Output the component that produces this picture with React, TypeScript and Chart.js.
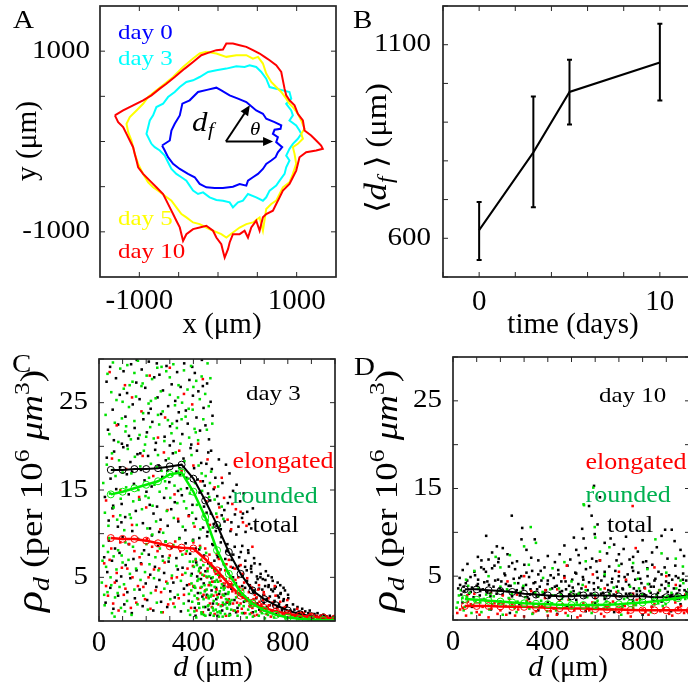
import React, { useEffect, useRef } from "react";
import { Chart, registerables } from "chart.js";

Chart.register(...registerables);

const SERIF = '"Liberation Serif", "Times New Roman", Times, serif';
const AXIS = "#262626";

// ---------------- Panel A : invasion fronts (x, y in µm) ----------------
const contourDay0: [number, number][] = [
  [-711, -44], [-613, 11], [-592, 122], [-550, 196], [-486, 289], [-453, 419], [-360, 456], [-254, 548],
  [-127, 574], [-21, 596], [42, 567], [148, 511], [254, 474], [360, 437], [423, 389], [486, 344],
  [571, 307], [613, 252], [719, 215], [804, 178], [795, 141], [719, 130], [698, 85], [761, 48],
  [740, -7], [816, -63], [761, -119], [732, -174], [677, -211], [613, -248], [571, -304], [508, -359],
  [444, -396], [381, -433], [360, -489], [275, -470], [190, -500], [63, -515], [-42, -515], [-148, -507],
  [-233, -470], [-296, -396], [-381, -359], [-486, -304], [-571, -248], [-635, -174], [-677, -100],
];
const contourDay3: [number, number][] = [
  [-846, -26], [-909, 85], [-888, 159], [-867, 233], [-825, 289], [-783, 381], [-698, 418], [-635, 492],
  [-550, 548], [-486, 603], [-402, 659], [-317, 677], [-233, 714], [-127, 770], [-21, 788], [106, 807],
  [233, 833], [338, 825], [402, 844], [486, 825], [550, 770], [613, 696], [656, 603], [740, 585],
  [825, 566], [909, 548], [931, 474], [867, 418], [931, 344], [952, 289], [909, 233], [994, 178],
  [1036, 122], [1058, 85], [1015, 30], [952, -26], [909, -81], [867, -156], [909, -211], [867, -285],
  [846, -359], [783, -433], [740, -489], [656, -544], [613, -618], [571, -655], [486, -618], [381, -581],
  [317, -655], [254, -674], [190, -729], [148, -674], [63, -655], [-21, -648], [-106, -618], [-190, -563],
  [-254, -581], [-317, -544], [-360, -489], [-402, -433], [-465, -396], [-529, -359], [-592, -304],
  [-635, -229], [-677, -156], [-740, -100], [-804, -63],
];
const contourDay5: [number, number][] = [
  [-148, 993], [-21, 974], [106, 937], [233, 956], [360, 956], [444, 918], [508, 937], [571, 863],
  [613, 752], [677, 659], [740, 603], [804, 548], [867, 474], [909, 418], [952, 381], [1015, 307],
  [1058, 233], [1100, 141], [1058, 85], [1079, 30], [1015, -26], [952, -63], [973, -137], [994, -248],
  [952, -359], [909, -452], [825, -507], [783, -581], [740, -655], [677, -692], [613, -748], [571, -988],
  [529, -840], [444, -896], [360, -915], [275, -952], [190, -1007], [106, -1063], [42, -1026], [-63, -988],
  [-148, -952], [-233, -915], [-317, -896], [-402, -840], [-465, -804], [-529, -729], [-592, -655],
  [-677, -600], [-761, -544], [-825, -507], [-888, -452], [-952, -359], [-1015, -248], [-1058, -137],
  [-1079, -63], [-1100, 11], [-1142, 104], [-1163, 196], [-1121, 270], [-1036, 344], [-952, 418],
  [-888, 492], [-783, 566], [-677, 640], [-571, 714], [-444, 825], [-317, 918], [-233, 974],
];
const contourDay10: [number, number][] = [
  [-1311, 289], [-1206, 344], [-1079, 400], [-952, 456], [-846, 511], [-740, 585], [-656, 640], [-550, 714],
  [-423, 807], [-317, 881], [-212, 955], [-127, 981], [-21, 1011], [63, 1018], [106, 1085], [190, 1085],
  [275, 1066], [360, 1048], [444, 1011], [529, 974], [592, 937], [656, 900], [740, 844], [804, 770],
  [825, 677], [846, 585], [867, 511], [909, 456], [973, 400], [1015, 307], [1079, 233], [1100, 122],
  [1184, 67], [1248, 11], [1311, -44], [1332, -81], [1248, -100], [1121, -118], [1036, -174], [1015, -248],
  [994, -322], [952, -396], [909, -470], [825, -544], [783, -618], [740, -692], [698, -766], [613, -803],
  [571, -840], [529, -988], [486, -877], [423, -951], [381, -1063], [338, -988], [275, -1026], [190, -1026],
  [148, -1118], [127, -1192], [85, -1285], [63, -1211], [42, -1137], [-21, -1063], [-63, -988], [-148, -933],
  [-233, -951], [-317, -970], [-402, -1026], [-444, -1100], [-486, -951], [-529, -877], [-571, -803],
  [-613, -729], [-656, -655], [-698, -581], [-783, -507], [-867, -433], [-952, -359], [-1015, -285],
  [-1036, -211], [-1058, -137], [-1079, -63], [-1121, 11], [-1163, 85], [-1206, 159], [-1269, 215],
];
const aTicks = [-1000, -500, 0, 500, 1000];
const aTickLabels = [-1000, 1000];
const arrowTail = [100, 0];
const arrowHeadRadial = [405, 400];
const arrowHeadAxis = [700, 0];

// ---------------- Panel B : mean front distance ----------------
const days = [0, 3, 5, 10];
const meanDf = [621, 822, 978, 1054];
const dfLow = [544, 680, 894, 956];
const dfHigh = [694, 966, 1061, 1154];
const bXTicks = [-2, 0, 2, 4, 6, 8, 10, 12];
const bYTicks = [500, 600, 700, 800, 900, 1000, 1100, 1200];
const bXLabels = [0, 10];
const bYLabels = [600, 1100];

// ---------------- Panels C & D : density profiles ----------------
const dGrid = [50, 100, 150, 200, 250, 300, 350, 400, 450, 500, 550, 600, 650, 700, 750, 800, 850, 900, 950, 1000];
const day3Total = [17.3, 17.3, 17.4, 17.4, 17.5, 17.7, 17.9, 16.3, 13.8, 11.0, 7.9, 5.4, 3.5, 2.5, 1.8, 1.2, 0.8, 0.55, 0.4, 0.25];
const day3Rounded = [14.5, 14.8, 15.2, 15.6, 16.0, 16.8, 17.0, 14.8, 11.9, 8.1, 5.4, 3.3, 2.0, 1.2, 0.7, 0.4, 0.25, 0.15, 0.1, 0.1];
const day3Elongated = [9.5, 9.4, 9.4, 9.2, 8.9, 8.55, 8.4, 8.3, 7.1, 5.8, 4.2, 2.9, 2.1, 1.5, 1.1, 0.8, 0.6, 0.5, 0.4, 0.3];
const day10Total = [3.5, 3.5, 3.4, 3.3, 3.2, 3.0, 2.9, 2.8, 2.7, 2.7, 2.8, 2.8, 2.8, 2.7, 2.7, 2.7, 2.6, 2.6, 2.7, 2.8];
const day10Rounded = [2.4, 2.3, 2.2, 2.1, 2.0, 1.9, 1.85, 1.8, 1.75, 1.7, 1.7, 1.7, 1.75, 1.8, 1.9, 2.0, 2.1, 2.3, 2.5, 2.7];
const day10Elongated = [1.6, 1.6, 1.6, 1.55, 1.5, 1.5, 1.45, 1.4, 1.35, 1.3, 1.3, 1.25, 1.2, 1.2, 1.15, 1.1, 1.1, 1.1, 1.1, 1.1];

// day 3 scattered cell densities: [d, rho]
const day3TotalHigh: [number, number][] = [
  [32, 27.4], [38, 21.9], [47, 29.1], [58, 24.2], [63, 20.7], [72, 27.8], [81, 22.5], [88, 25.9], [97, 20.3], [104, 28.6],
  [112, 23.4], [119, 26.1], [127, 21.2], [136, 29.4], [143, 24.8], [151, 22.1], [158, 27.3], [166, 20.9], [172, 25.4], [181, 28.8],
  [188, 23.1], [196, 26.7], [203, 21.6], [211, 29.7], [219, 24.3], [226, 22.8], [234, 27.9], [241, 20.4], [248, 25.6], [256, 28.2],
  [263, 23.7], [271, 26.4], [278, 21.1], [286, 29.2], [293, 24.6], [301, 22.3], [308, 27.1], [316, 20.6], [323, 25.2], [331, 28.5],
  [338, 23.9], [346, 26.8], [353, 21.4], [361, 29.5], [368, 24.1], [376, 22.6], [383, 27.6], [391, 20.2], [398, 25.8], [406, 28.4],
  [413, 23.3], [421, 26.3], [428, 21.8], [436, 29.9], [443, 24.4], [451, 22.4], [458, 27.2], [466, 20.8], [473, 25.1], [481, 23.5],
  [160, 29.9], [245, 29.5], [330, 22.9], [395, 29.1], [120, 20.1], [210, 23.8], [300, 20.1], [440, 26.9],
];
const day3TotalMid: [number, number][] = [
  [25, 14.2], [33, 18.7], [41, 11.5], [49, 16.3], [57, 12.9], [64, 19.4], [73, 15.1], [80, 10.8], [89, 17.6], [96, 13.4],
  [103, 19.9], [111, 11.9], [118, 16.8], [126, 14.5], [133, 18.2], [141, 10.3], [148, 15.7], [156, 12.6], [163, 19.1], [171, 13.9],
  [178, 17.3], [186, 11.2], [193, 16.1], [201, 14.8], [208, 18.9], [216, 10.6], [223, 15.4], [231, 12.3], [238, 19.6], [246, 13.1],
  [253, 17.8], [261, 11.6], [268, 16.5], [276, 14.1], [283, 18.4], [291, 10.9], [298, 15.9], [306, 12.8], [313, 19.2], [321, 13.6],
  [328, 17.1], [336, 11.4], [343, 16.7], [351, 14.4], [358, 18.6], [366, 10.4], [373, 15.2], [381, 12.1], [388, 19.8], [396, 13.3],
  [403, 17.5], [411, 11.7], [418, 16.2], [426, 14.7], [433, 18.1], [441, 10.7], [448, 15.5], [456, 12.4], [463, 19.3], [471, 13.8],
  [478, 17.4], [486, 11.1], [493, 16.4], [501, 14.3], [508, 18.5], [516, 10.5], [523, 15.8], [531, 12.7], [538, 17.9], [546, 13.5],
  [553, 16.9], [561, 11.3], [568, 14.9], [576, 12.2], [583, 15.6], [591, 10.8], [598, 13.7], [606, 11.8], [613, 14.6], [621, 10.2],
  [628, 12.5], [636, 11.1], [645, 10.6], [652, 12.9], [60, 13.2], [140, 17.1], [215, 13.3], [290, 17.2], [370, 16.4], [445, 13.1],
  [520, 12.1], [95, 11.3], [175, 19.2], [255, 10.2], [335, 14.9], [415, 19.5], [495, 10.3], [555, 14.2], [610, 12.3],
  [462, 14.6], [474, 12.3], [486, 15.1], [498, 10.9], [507, 13.4], [532, 11.4], [557, 10.3], [440, 16], [455, 18], [475, 19.5],
];
const day3TotalLow: [number, number][] = [
  [22, 7.3], [28, 2.1], [35, 5.6], [42, 9.2], [48, 3.8], [55, 6.9], [61, 1.4], [68, 8.3], [74, 4.6], [81, 2.9],
  [87, 7.8], [94, 5.1], [100, 9.6], [107, 1.9], [113, 6.4], [120, 3.3], [126, 8.8], [133, 4.9], [139, 0.9], [146, 7.1],
  [152, 2.6], [159, 5.8], [165, 9.4], [172, 3.6], [178, 6.6], [185, 1.7], [191, 8.1], [198, 4.3], [204, 2.4], [211, 7.6],
  [217, 5.3], [224, 9.8], [230, 1.2], [237, 6.2], [243, 3.9], [250, 8.6], [256, 4.7], [263, 2.2], [269, 7.4], [276, 5.5],
  [282, 9.1], [289, 1.6], [295, 6.8], [302, 3.4], [308, 8.4], [315, 4.4], [321, 2.7], [328, 7.2], [334, 5.9], [341, 9.5],
  [347, 1.1], [354, 6.1], [360, 3.7], [367, 8.9], [373, 4.1], [380, 2.3], [386, 7.7], [393, 5.4], [399, 9.3], [406, 1.5],
  [412, 6.7], [419, 3.2], [425, 8.2], [432, 4.8], [438, 2.8], [445, 7.5], [451, 5.7], [458, 9.7], [464, 1.3], [471, 6.3],
  [477, 3.5], [484, 8.7], [490, 4.5], [497, 2.5], [503, 7.3], [510, 5.2], [516, 9.0], [523, 1.8], [529, 6.5], [536, 3.1],
  [542, 8.0], [549, 4.2], [555, 2.0], [562, 7.0], [568, 5.0], [575, 8.5], [581, 1.0], [588, 6.0], [594, 3.0], [601, 7.9],
  [607, 4.0], [614, 2.2], [620, 6.9], [627, 4.6], [633, 7.8], [640, 1.7], [646, 5.6], [653, 3.3], [659, 6.6], [666, 2.6],
  [672, 4.8], [679, 1.3], [685, 5.4], [692, 3.6], [698, 2.1], [705, 4.7], [711, 1.6], [718, 3.9], [724, 2.8], [731, 1.1],
  [737, 3.4], [744, 2.3], [750, 0.8], [757, 2.9], [763, 1.9], [770, 3.2], [776, 1.4], [783, 2.5], [789, 0.9], [796, 1.8],
  [802, 2.6], [809, 1.2], [815, 0.7], [822, 1.9], [828, 1.3], [835, 0.6], [841, 1.6], [848, 1.0], [854, 0.5], [861, 1.4],
  [867, 0.8], [874, 1.1], [880, 0.4], [887, 0.9], [893, 1.2], [900, 0.6], [906, 0.3], [913, 0.8], [919, 0.5], [926, 0.9],
  [932, 0.4], [939, 0.6], [945, 0.3], [952, 0.7], [958, 0.4], [965, 0.5], [971, 0.3], [978, 0.6], [984, 0.2], [991, 0.4],
  [402, 3.9], [409, 0.6], [416, 5.1], [423, 2.0], [430, 6.1], [437, 0.9], [444, 4.3], [450, 1.6], [457, 3.0], [463, 6.6],
  [470, 0.7], [476, 4.9], [483, 2.0], [489, 6.9], [496, 3.8], [502, 0.6], [509, 3.1], [515, 5.9], [522, 1.2], [528, 4.0],
  [535, 7.1], [541, 2.1], [548, 5.5], [554, 0.8], [561, 3.7], [567, 6.1], [574, 2.4], [580, 4.3], [587, 1.5], [593, 6.3],
  [600, 3.2], [606, 5.1], [613, 0.9], [619, 3.8], [626, 5.8], [632, 2.4], [639, 4.1], [645, 6.3], [652, 1.0], [658, 3.5],
  [665, 4.4], [671, 2.0], [678, 3.7], [684, 5.0], [691, 1.5], [697, 3.0], [704, 4.0], [710, 2.5], [717, 5.2], [723, 1.8],
  [730, 3.6], [736, 4.6], [742, 2.2], [749, 3.9], [755, 1.6], [762, 2.7], [768, 4.1], [775, 1.2], [781, 2.3], [788, 3.5],
  [794, 1.7], [801, 3.0], [519, 9.6], [544, 8.8], [569, 7.6], [582, 9.9], [594, 7.3], [607, 8.6], [619, 6.2], [632, 8.1],
  [644, 6.0], [657, 7.2], [669, 5.1], [682, 6.5], [694, 4.8], [707, 5.7], [719, 4.1], [732, 5.0], [744, 3.7], [757, 4.4],
  [769, 3.1], [782, 3.8], [460, 10.2], [480, 8.8], [500, 7.6], [425, 9.5], [410, 8.3],
];
const day3RoundedHigh: [number, number][] = [
  [28, 23.6], [36, 28.3], [44, 21.4], [52, 26.2], [59, 29.6], [67, 22.7], [74, 25.3], [82, 20.5], [90, 28.9], [97, 23.2],
  [105, 26.6], [112, 21.7], [120, 29.3], [127, 24.5], [135, 20.8], [142, 27.4], [150, 22.9], [157, 25.7], [165, 29.8], [172, 21.3],
  [180, 26.9], [187, 23.8], [195, 20.2], [202, 28.1], [210, 24.9], [217, 22.2], [225, 27.7], [232, 20.9], [240, 25.5], [247, 29.0],
  [255, 22.5], [262, 26.3], [270, 24.0], [277, 20.6], [285, 28.6], [292, 23.0], [300, 25.9], [307, 21.5], [315, 29.4], [322, 24.7],
  [330, 22.1], [337, 27.0], [345, 20.3], [352, 25.0], [360, 28.7], [367, 23.4], [375, 26.5], [382, 21.0], [390, 29.2], [397, 24.2],
  [405, 22.0], [412, 27.5], [420, 20.7], [427, 25.4], [435, 28.0], [442, 23.1], [450, 26.0], [457, 21.9], [465, 24.6], [472, 27.8],
  [480, 22.6], [100, 25.1], [150, 28.4], [200, 21.1], [250, 23.6], [300, 27.9], [350, 23.1], [400, 26.8], [115, 22.3], [185, 27.2],
  [265, 29.1], [335, 25.6], [410, 21.6], [460, 29.5], [130, 27.0], [220, 25.2], [310, 22.6], [380, 24.3],
];
const day3RoundedMid: [number, number][] = [
  [18, 15.8], [25, 12.4], [33, 17.9], [40, 10.9], [47, 14.6], [55, 19.2], [62, 13.0], [70, 16.6], [77, 11.6], [85, 18.4],
  [92, 14.0], [100, 17.0], [107, 10.4], [115, 15.3], [122, 19.7], [130, 12.2], [137, 16.9], [145, 13.7], [152, 18.8], [160, 11.0],
  [167, 15.0], [175, 17.7], [182, 12.8], [190, 19.5], [197, 14.3], [205, 10.6], [212, 16.4], [220, 18.0], [227, 13.2], [235, 15.6],
  [242, 11.4], [250, 19.0], [257, 14.8], [265, 17.2], [272, 10.1], [280, 16.0], [287, 12.6], [295, 18.6], [302, 14.1], [310, 16.7],
  [317, 11.8], [325, 19.3], [332, 13.5], [340, 17.5], [347, 15.1], [355, 10.8], [362, 18.3], [370, 12.9], [377, 16.3], [385, 14.6],
  [392, 19.0], [400, 11.2], [407, 15.8], [415, 13.3], [422, 17.8], [430, 10.5], [437, 14.9], [445, 12.0], [452, 16.6], [460, 11.5],
  [467, 14.2], [475, 17.1], [482, 10.7], [490, 13.9], [497, 12.3], [505, 15.4], [512, 10.9], [520, 13.1], [527, 11.7],
  [60, 17.3], [135, 11.8], [210, 14.1], [285, 15.2], [360, 13.7], [435, 16.9], [90, 12.1], [170, 13.9], [245, 17.6], [320, 15.5],
  [395, 12.4], [470, 15.8],
];
const day3RoundedLow: [number, number][] = [
  [12, 4.4], [18, 8.6], [24, 1.8], [30, 6.2], [36, 3.3], [43, 9.5], [49, 5.0], [55, 0.9], [62, 7.4], [68, 2.7],
  [74, 5.9], [81, 8.1], [87, 3.9], [93, 1.5], [100, 6.7], [106, 4.2], [112, 9.0], [119, 2.3], [125, 7.0], [131, 5.4],
  [138, 0.7], [144, 8.5], [150, 3.6], [157, 6.0], [163, 1.9], [169, 9.3], [176, 4.7], [182, 7.7], [188, 2.9], [195, 5.6],
  [201, 8.8], [207, 1.3], [214, 6.5], [220, 3.2], [226, 9.9], [233, 4.9], [239, 7.3], [245, 2.1], [252, 5.8], [258, 8.3],
  [264, 1.0], [271, 6.9], [277, 3.7], [283, 9.1], [290, 4.3], [296, 7.2], [302, 2.5], [309, 5.2], [315, 8.7], [321, 1.6],
  [328, 6.3], [334, 3.0], [340, 9.4], [347, 4.6], [353, 7.6], [359, 2.0], [366, 5.5], [372, 8.0], [378, 1.2], [385, 6.8],
  [391, 3.5], [397, 9.2], [404, 4.0], [410, 7.1], [416, 2.6], [423, 5.7], [429, 8.4], [435, 0.8], [442, 6.4], [448, 3.4],
  [454, 7.8], [461, 1.7], [467, 5.1], [473, 2.8], [480, 6.1], [486, 0.6], [492, 4.5], [499, 2.0], [505, 5.3], [511, 1.1],
  [518, 3.8], [524, 0.5], [530, 2.9], [537, 4.8], [543, 1.4], [549, 3.3], [556, 0.7], [562, 2.4], [568, 4.1], [575, 1.2],
  [581, 2.7], [587, 0.6], [594, 1.8], [600, 3.0], [606, 0.9], [613, 1.7], [619, 2.3], [626, 0.4], [632, 1.3], [639, 0.8],
  [645, 1.9], [652, 0.5], [664, 1.1], [677, 0.6], [690, 0.9], [703, 0.3], [716, 0.7], [742, 0.4], [768, 0.6], [794, 0.3],
  [820, 0.4], [846, 0.2], [872, 0.3], [898, 0.15], [924, 0.25], [950, 0.1], [976, 0.2],
  [381, 3.1], [386, 0.7], [390, 5.2], [395, 2.2], [399, 6.8], [404, 1.1], [408, 3.8], [412, 0.4], [417, 4.6], [421, 2.0],
  [425, 6.0], [430, 3.2], [434, 1.0], [438, 5.3], [443, 2.5], [447, 4.1], [451, 0.6], [456, 3.6], [460, 5.7], [464, 1.8],
  [469, 4.4], [473, 0.9], [477, 3.0], [482, 5.0], [486, 2.3], [490, 3.9], [495, 1.3], [499, 4.7], [503, 2.7], [508, 0.5],
  [512, 3.4], [516, 1.7], [521, 4.2], [525, 2.1], [529, 3.6], [534, 0.8], [538, 2.5], [542, 1.5], [547, 3.1], [551, 0.6],
  [555, 2.2], [560, 1.3], [405, 2.9], [415, 6.4], [425, 1.5], [435, 3.9], [445, 0.7], [455, 5.1], [465, 2.6], [475, 4.1],
  [485, 1.2], [495, 3.3], [505, 4.5], [515, 0.9], [525, 3.0], [535, 1.9], [545, 2.4], [392, 4.3], [402, 6.2], [422, 4.8],
  [432, 7.0], [442, 1.6], [462, 2.9], [472, 6.3], [482, 1.5], [492, 5.7], [502, 1.0], [522, 5.1], [532, 3.8], [552, 1.9],
  [15, 6.9], [22, 3.0], [38, 7.9], [52, 4.1], [66, 0.5], [79, 3.2], [96, 7.5], [110, 1.1],
];
const day3ElongatedHigh: [number, number][] = [
  [45, 28.5], [110, 27], [180, 24], [250, 21], [300, 29], [340, 19.5], [360, 26], [420, 20.3], [460, 18.5], [75, 22.4],
  [140, 25.6], [215, 28.1], [280, 23.3], [395, 24.8], [440, 27.7],
  [30, 13.8], [60, 12], [90, 15], [115, 17.4], [140, 11], [170, 14.2], [200, 13], [230, 16.6], [260, 10.5], [290, 12.7],
  [320, 14.5], [350, 17.2], [380, 12], [405, 10.8], [430, 16], [455, 13.7], [470, 11], [490, 15.3], [510, 13], [530, 14.1],
  [545, 11.6], [560, 10.5], [580, 12.8], [600, 12.5], [625, 10.9], [650, 8.5], [55, 18.6], [185, 18.9], [275, 19.3], [335, 11.7],
  [400, 17.8], [500, 11.9], [520, 16.4], [565, 13.4], [610, 11.3],
];
const day3ElongatedLow: [number, number][] = [
  [30, 4], [45, 7], [60, 2], [75, 5.5], [90, 9], [105, 3], [120, 6], [135, 1.5], [150, 8], [165, 4],
  [180, 6.5], [195, 2.5], [210, 5], [225, 8.5], [240, 3.5], [255, 6], [270, 1], [285, 4.5], [300, 7.5], [315, 2],
  [330, 5], [345, 8], [360, 3], [375, 6], [390, 1.5], [400, 4], [410, 7], [420, 2.5], [430, 5.5], [440, 1],
  [450, 3.5], [460, 6], [470, 2], [480, 4.5], [490, 0.8], [500, 3], [510, 5], [520, 1.8], [530, 3.8], [540, 6.5],
  [550, 2.5], [560, 4.2], [570, 1.2], [580, 3.2], [590, 5], [600, 2], [610, 3.6], [620, 0.9], [630, 2.6], [640, 4],
  [650, 1.5], [660, 3], [670, 0.7], [680, 2.2], [690, 1.4], [700, 3], [710, 0.8], [720, 1.8], [730, 1.1], [745, 4],
  [760, 0.6], [780, 1.5], [800, 0.9], [830, 0.5], [860, 1], [900, 0.6], [940, 0.4], [980, 0.3],
  [430, 3.8], [445, 5.2], [455, 2.7], [465, 4.1], [475, 6.6], [485, 2.9], [495, 5.4], [505, 1.9], [515, 4.6],
  [525, 3], [535, 5.8], [545, 2.2], [555, 4.9], [565, 3.4], [575, 6], [585, 2.1], [595, 3.9], [605, 1.4],
  [615, 4.4], [625, 2.3], [635, 3.3], [645, 0.9], [655, 2.5], [665, 1.8], [675, 3.6], [685, 1.1], [695, 2.4],
  [715, 1.5], [735, 2.1], [755, 1.2], [400, 9], [450, 8.3], [500, 7.7], [550, 7], [600, 6.4],
  [22, 6.6], [38, 2.9], [52, 8.3], [67, 4.4], [83, 1.2], [97, 6.1], [112, 3.7], [128, 8.8], [142, 5.0], [158, 2.1],
  [172, 7.3], [188, 3.9], [203, 9.4], [218, 1.4], [233, 5.9], [248, 8.0], [263, 3.3], [278, 6.7], [293, 1.9], [308, 4.9],
  [323, 9.1], [338, 2.6], [353, 5.3], [368, 7.7], [383, 4.2], [398, 6.3], [413, 1.2], [428, 8.6], [443, 3.0], [458, 5.0],
  [468, 7.6], [478, 1.6], [488, 5.9], [498, 3.6], [508, 7.1], [518, 2.7], [528, 4.3], [538, 0.6], [548, 3.9], [558, 6.2],
  [568, 2.0], [578, 4.7], [588, 1.1], [598, 3.4], [608, 5.4], [618, 2.8], [628, 4.9], [638, 1.7], [648, 3.8], [658, 0.6],
  [668, 2.7], [678, 4.1], [688, 1.9], [698, 3.3], [708, 1.3], [718, 2.6], [728, 0.5], [738, 1.8], [748, 2.9], [758, 1.0],
  [768, 2.2], [778, 0.7], [788, 1.6], [798, 2.4], [812, 1.1], [826, 0.7], [840, 1.4], [854, 0.5], [868, 0.9], [882, 0.4],
  [896, 0.8], [910, 0.3], [924, 0.6], [938, 0.5], [952, 0.3], [966, 0.5], [980, 0.2], [994, 0.4],
];

// day 10 scattered cell densities: [d, rho]
const day10TotalHigh: [number, number][] = [
  [248, 11.9], [292, 10.5], [289, 9.2], [345, 9.2], [585, 11.9], [620, 14], [595, 15.3], [574, 13], [551, 9.3],
  [510, 9.4], [598, 9.8], [895, 10.3], [923, 10.3], [730, 9.5], [840, 7.7], [165, 7.7], [193, 7], [120, 6.8],
  [210, 8.2], [680, 8.6], [760, 7.2], [800, 9.1], [960, 8], [450, 7.5], [520, 8], [640, 8.8], [700, 7.5],
  [105, 7.2], [150, 6.9], [185, 8.4], [230, 7.5], [270, 6.7], [310, 8.0], [360, 6.8], [400, 7.3], [430, 6.6],
  [470, 8.5], [495, 6.9], [530, 7.4], [560, 8.2], [605, 6.7], [650, 7.6], [665, 9.3], [690, 6.8], [720, 8.1],
  [745, 6.9], [780, 7.8], [815, 6.7], [860, 8.3], [905, 7.0], [935, 9.0], [975, 7.3], [140, 9.6], [330, 7.1],
  [545, 10.4], [610, 10.9], [880, 9.6],
];
const day10TotalBand: [number, number][] = [
  [22, 3.6], [28, 4.8], [35, 2.9], [41, 5.7], [48, 3.3], [54, 4.2], [61, 6.4], [67, 3.0], [74, 4.9], [80, 3.7],
  [87, 2.6], [93, 5.1], [100, 3.9], [106, 4.6], [113, 2.8], [119, 6.0], [126, 3.5], [132, 4.3], [139, 5.5], [145, 3.2],
  [152, 4.0], [158, 2.7], [165, 5.9], [171, 3.8], [178, 4.5], [184, 3.0], [191, 6.6], [197, 3.6], [204, 4.4], [210, 2.9],
  [217, 5.3], [223, 4.1], [230, 3.3], [236, 6.1], [243, 3.9], [249, 2.7], [256, 4.7], [262, 5.8], [269, 3.4], [275, 4.2],
  [282, 2.8], [288, 5.0], [295, 3.7], [301, 6.3], [308, 4.0], [314, 2.6], [321, 4.9], [327, 3.5], [334, 5.6], [340, 3.1],
  [347, 4.3], [353, 2.7], [360, 5.2], [366, 3.8], [373, 4.5], [379, 2.9], [386, 6.0], [392, 3.4], [399, 4.1], [405, 2.6],
  [412, 5.1], [418, 3.6], [425, 4.8], [431, 2.8], [438, 3.9], [444, 5.7], [451, 3.2], [457, 4.4], [464, 2.7], [470, 5.0],
  [477, 3.5], [483, 6.2], [490, 3.9], [496, 2.8], [503, 4.6], [509, 3.3], [516, 5.4], [522, 2.9], [529, 4.1], [535, 6.5],
  [542, 3.6], [548, 4.9], [555, 2.7], [561, 5.8], [568, 3.4], [574, 4.3], [581, 3.0], [587, 7.0], [594, 4.2], [600, 2.8],
  [607, 5.5], [613, 3.7], [620, 6.8], [626, 4.5], [633, 3.1], [639, 5.0], [646, 2.7], [652, 4.0], [659, 6.1], [665, 3.3],
  [672, 4.7], [678, 2.9], [685, 5.6], [691, 3.8], [698, 4.4], [704, 2.7], [711, 6.4], [717, 3.5], [724, 4.9], [730, 3.0],
  [737, 5.2], [743, 4.0], [750, 2.8], [756, 6.0], [763, 3.6], [769, 4.6], [776, 2.9], [782, 5.4], [789, 3.3], [795, 4.2],
  [802, 6.6], [808, 3.7], [815, 2.8], [821, 5.0], [828, 4.1], [834, 3.1], [841, 6.3], [847, 3.8], [854, 4.7], [860, 2.9],
  [867, 5.5], [873, 3.4], [880, 4.0], [886, 2.7], [893, 6.0], [899, 4.4], [906, 3.2], [912, 5.1], [919, 2.8], [925, 4.6],
  [932, 3.6], [938, 6.2], [945, 3.0], [951, 4.8], [958, 3.9], [964, 2.7], [971, 5.3], [977, 3.4], [984, 4.5], [990, 2.9],
  [997, 5.0],
  [30, 4], [45, 3.8], [60, 4.5], [75, 3.2], [90, 5.5], [105, 4.1], [115, 3.3], [130, 5.8], [145, 4.4], [160, 3.1],
  [175, 6.2], [190, 4.6], [205, 3.4], [220, 5.1], [235, 3.9], [250, 6.5], [265, 3.2], [280, 4.8], [295, 3.6],
  [310, 5.4], [325, 2.9], [340, 4.2], [355, 3.5], [370, 5.6], [385, 3.1], [400, 4.5], [415, 2.8], [430, 3.8],
  [445, 5.2], [460, 3.3], [475, 4.4], [490, 2.9], [505, 3.7], [520, 5.3], [535, 3.1], [550, 4.6], [565, 2.7],
  [580, 6], [595, 3.5], [610, 4.8], [625, 3], [640, 5.5], [655, 3.4], [670, 4.3], [685, 2.8], [700, 5],
  [715, 3.6], [730, 4.4], [745, 3], [760, 5.6], [775, 3.3], [790, 4.7], [805, 2.9], [820, 5.9], [835, 3.8],
  [850, 4.5], [865, 3.1], [880, 5.2], [895, 3.6], [910, 4.2], [925, 2.9], [940, 5], [955, 3.4], [970, 4.6],
  [985, 3.2], [1000, 4],
  [40, 2], [80, 1.5], [120, 2.3], [160, 1.2], [200, 2.1], [240, 0.8], [280, 1.8], [320, 2.4], [360, 1.1],
  [400, 2], [440, 0.7], [480, 1.6], [520, 2.3], [560, 1], [600, 1.9], [640, 2.4], [680, 0.9], [720, 1.7],
  [760, 2.2], [800, 0.6], [840, 1.5], [880, 2.1], [920, 1], [960, 1.8], [995, 0.8],
];
const day10RoundedDots: [number, number][] = [
  [328, 10.6], [551, 13.2], [592, 15.1], [553, 13.1], [598, 10.6], [854, 9.2], [300, 8.4], [180, 7.2], [620, 7.8],
  [940, 7], [470, 6.6], [700, 6.2], [90, 5.6], [200, 6.0], [240, 7.4], [320, 6.3], [350, 8.8], [420, 5.9], [560, 6.7],
  [600, 9.4], [660, 8.3], [760, 6.5], [820, 5.8], [880, 7.6], [970, 6.1],
  [25, 2.8], [50, 1.5], [70, 3.1], [95, 2.2], [120, 0.9], [140, 2.9], [165, 1.8], [190, 3.3], [210, 0.6],
  [235, 2.5], [260, 1.4], [285, 3.2], [310, 2], [335, 0.7], [360, 2.7], [385, 1.5], [410, 3.5], [435, 1.1],
  [460, 2.4], [485, 0.5], [510, 2.9], [535, 1.7], [560, 3.4], [585, 0.8], [610, 2.2], [635, 1.3], [660, 3],
  [685, 1.9], [710, 0.6], [735, 2.6], [760, 1.4], [785, 3.6], [810, 2], [835, 0.9], [860, 2.8], [885, 1.6],
  [910, 3.9], [935, 2.3], [960, 4.5], [985, 3], [1000, 1.5],
  [55, 4.6], [150, 5], [260, 4.2], [380, 4.8], [500, 4.4], [640, 5.2], [780, 4.7], [900, 5.4],
  [20, 2.0], [33, 3.4], [45, 1.1], [58, 2.6], [64, 3.9], [83, 1.7], [108, 3.6], [130, 2.4], [153, 1.2], [172, 2.7],
  [200, 3.8], [222, 1.6], [248, 3.0], [272, 2.1], [297, 3.9], [322, 1.3], [347, 3.1], [372, 2.2], [397, 1.0], [422, 2.8],
  [447, 3.6], [472, 1.4], [497, 3.2], [522, 2.0], [547, 4.0], [572, 1.5], [597, 2.9], [622, 3.5], [647, 2.1], [672, 1.2],
  [697, 3.3], [722, 2.4], [747, 3.8], [772, 1.7], [797, 2.9], [822, 4.1], [847, 2.2], [872, 3.4], [897, 1.8], [922, 3.1],
  [947, 2.6], [972, 4.2], [993, 3.5], [15, 1.4], [40, 2.5], [78, 0.8], [115, 2.0], [158, 3.0], [195, 1.9], [228, 3.5],
  [268, 0.9], [305, 2.6], [340, 1.8], [378, 3.2], [418, 1.9], [455, 2.9], [492, 2.3], [530, 3.0], [566, 2.6], [603, 1.4],
  [640, 2.7], [678, 3.7], [715, 1.5], [752, 2.8], [790, 2.3], [828, 3.3], [866, 1.9], [905, 2.7], [942, 3.6], [980, 2.4],
];
const day10ElongatedDots: [number, number][] = [
  [758, 13], [771, 8.2], [480, 6.2], [620, 6.8], [700, 5.5], [850, 6], [300, 5],
  [30, 1.2], [55, 0.5], [75, 1.8], [100, 0.9], [125, 1.5], [150, 0.3], [175, 1.9], [200, 1.1], [225, 0.6],
  [250, 1.7], [275, 1.2], [300, 0.4], [325, 2], [350, 1], [375, 1.6], [400, 0.5], [425, 1.3], [450, 2.2],
  [475, 0.8], [500, 1.5], [525, 0.3], [550, 1.9], [575, 1.1], [600, 2.5], [625, 0.7], [650, 1.4], [675, 2.1],
  [700, 0.9], [725, 1.6], [750, 0.4], [775, 2.3], [800, 1.2], [825, 0.6], [850, 1.8], [875, 1], [900, 2.6],
  [925, 0.5], [950, 1.4], [975, 0.8], [1000, 1.9],
  [90, 3], [210, 2.8], [330, 3.3], [440, 3.5], [560, 3.8], [690, 3.2], [810, 3.6], [940, 4],
  [18, 0.8], [42, 1.4], [63, 2.1], [88, 1.6], [112, 0.6], [138, 2.2], [162, 1.3], [188, 0.7], [213, 1.9], [238, 2.4],
  [262, 0.5], [288, 1.5], [312, 2.2], [338, 0.8], [362, 1.7], [388, 2.5], [412, 1.0], [438, 0.6], [462, 1.8], [488, 2.3],
  [512, 1.1], [538, 0.5], [562, 1.6], [588, 2.0], [612, 1.3], [638, 0.4], [662, 1.9], [688, 2.7], [712, 1.2], [738, 0.8],
  [762, 1.7], [788, 2.4], [812, 0.9], [838, 1.5], [862, 2.2], [888, 1.3], [912, 0.7], [938, 2.0], [962, 1.6], [988, 1.0],
  [60, 2.8], [160, 3.1], [270, 2.9], [390, 3.4], [510, 2.8], [640, 3.6], [760, 3.0], [870, 3.4], [980, 2.9], [230, 4.4],
  [470, 4.8], [590, 5.2], [730, 4.6], [900, 5.0],
];

const rhoTicks = [0, 5, 10, 15, 20, 25, 30];
const rhoLabels = [5, 15, 25];
const dTicks = [0, 100, 200, 300, 400, 500, 600, 700, 800, 900, 1000];
const dLabels = [0, 400, 800];

// ---------------- drawing helpers ----------------
type Seg = { t: string; size: number; italic?: boolean; dy?: number };
const fnt = (size: number, italic = false) => `${italic ? "italic " : ""}${size}px ${SERIF}`;

function text(
  ctx: CanvasRenderingContext2D, t: string, x: number, y: number,
  o: { size: number; italic?: boolean; color?: string; align?: CanvasTextAlign; base?: CanvasTextBaseline; sy?: number }
) {
  ctx.save();
  ctx.translate(x, y);
  ctx.scale(1, o.sy ?? 1);
  ctx.font = fnt(o.size, o.italic);
  ctx.fillStyle = o.color ?? "#000";
  ctx.textAlign = o.align ?? "left";
  ctx.textBaseline = o.base ?? "alphabetic";
  ctx.fillText(t, 0, 0);
  ctx.restore();
}

function rich(ctx: CanvasRenderingContext2D, segs: Seg[], x: number, y: number, rotate: boolean, length?: number) {
  ctx.save();
  ctx.translate(x, y);
  if (rotate) ctx.rotate(-Math.PI / 2);
  const widths = segs.map((s) => {
    ctx.font = fnt(s.size, s.italic);
    return ctx.measureText(s.t).width;
  });
  const total = widths.reduce((a, b) => a + b, 0);
  const k = length ? length / total : 1;
  ctx.scale(k, 1);
  let cx = -total / 2;
  ctx.fillStyle = "#000";
  ctx.textAlign = "left";
  ctx.textBaseline = "alphabetic";
  segs.forEach((s, i) => {
    ctx.font = fnt(s.size, s.italic);
    ctx.fillText(s.t, cx, s.dy ?? 0);
    cx += widths[i];
  });
  ctx.restore();
}

function frame(chart: any, xTicks: number[], yTicks: number[]) {
  const { ctx, chartArea: a } = chart;
  const xs = chart.scales.x, ys = chart.scales.y;
  ctx.save();
  ctx.strokeStyle = AXIS;
  ctx.lineWidth = 1;
  ctx.beginPath();
  for (const v of xTicks) {
    const p = xs.getPixelForValue(v);
    ctx.moveTo(p, a.bottom); ctx.lineTo(p, a.bottom - 5);
    ctx.moveTo(p, a.top); ctx.lineTo(p, a.top + 5);
  }
  for (const v of yTicks) {
    const p = ys.getPixelForValue(v);
    ctx.moveTo(a.left, p); ctx.lineTo(a.left + 5, p);
    ctx.moveTo(a.right, p); ctx.lineTo(a.right - 5, p);
  }
  ctx.stroke();
  ctx.lineWidth = 1.7;
  ctx.strokeRect(a.left, a.top, a.right - a.left, a.bottom - a.top);
  ctx.restore();
}

function tickLabels(chart: any, xVals: number[], yVals: number[], xMid: number, yRight: number) {
  const ctx = chart.ctx;
  const xs = chart.scales.x, ys = chart.scales.y;
  xVals.forEach((v) => text(ctx, String(v), xs.getPixelForValue(v), xMid, { size: 29, align: "center", base: "middle" }));
  yVals.forEach((v) => text(ctx, String(v), yRight, ys.getPixelForValue(v), { size: 29, align: "right", base: "middle", sy: 0.86 }));
}

function arrow(ctx: CanvasRenderingContext2D, x0: number, y0: number, x1: number, y1: number) {
  const ang = Math.atan2(y1 - y0, x1 - x0);
  const L = 10, W = 4.5;
  ctx.save();
  ctx.strokeStyle = "#000";
  ctx.fillStyle = "#000";
  ctx.lineWidth = 2;
  ctx.beginPath();
  ctx.moveTo(x0, y0);
  ctx.lineTo(x1 - Math.cos(ang) * L * 0.8, y1 - Math.sin(ang) * L * 0.8);
  ctx.stroke();
  ctx.beginPath();
  ctx.moveTo(x1, y1);
  ctx.lineTo(x1 - L * Math.cos(ang) + W * Math.sin(ang), y1 - L * Math.sin(ang) - W * Math.cos(ang));
  ctx.lineTo(x1 - L * Math.cos(ang) - W * Math.sin(ang), y1 - L * Math.sin(ang) + W * Math.cos(ang));
  ctx.closePath();
  ctx.fill();
  ctx.restore();
}

const baseOptions = (padding: any, xr: [number, number], yr: [number, number]) => ({
  animation: false,
  responsive: false,
  maintainAspectRatio: false,
  events: [],
  layout: { padding },
  plugins: { legend: { display: false }, tooltip: { enabled: false }, title: { display: false } },
  scales: {
    x: { type: "linear", min: xr[0], max: xr[1], display: false },
    y: { type: "linear", min: yr[0], max: yr[1], display: false },
  },
});

const toXY = (pts: [number, number][]) => pts.map(([x, y]) => ({ x, y }));
const closed = (pts: [number, number][]) => toXY([...pts, pts[0]]);

// ---------------- chart configs ----------------
function configA(): any {
  const line = (pts: [number, number][], color: string) => ({
    data: closed(pts), borderColor: color, borderWidth: 2, pointRadius: 0, showLine: true, tension: 0, fill: false,
  });
  return {
    type: "scatter",
    data: {
      datasets: [
        line(contourDay10, "#ff0000"),
        line(contourDay5, "#ffff00"),
        line(contourDay3, "#00ffff"),
        line(contourDay0, "#0000ff"),
      ],
    },
    options: baseOptions({ left: 100, top: 6, right: 8, bottom: 63 }, [-1500, 1500], [-1500, 1500]),
    plugins: [
      {
        id: "panelA",
        afterDraw(chart: any) {
          const ctx = chart.ctx;
          const xs = chart.scales.x, ys = chart.scales.y;
          const a = chart.chartArea;
          frame(chart, aTicks, aTicks);
          tickLabels(chart, aTickLabels, aTickLabels, a.bottom + 24, a.left - 10);
          const tx = xs.getPixelForValue(arrowTail[0]), ty = ys.getPixelForValue(arrowTail[1]);
          arrow(ctx, tx, ty, xs.getPixelForValue(arrowHeadRadial[0]), ys.getPixelForValue(arrowHeadRadial[1]));
          arrow(ctx, tx, ty, xs.getPixelForValue(arrowHeadAxis[0]), ys.getPixelForValue(arrowHeadAxis[1]));
          text(ctx, "d", 192, 131, { size: 31, italic: true, sy: 0.88 });
          text(ctx, "f", 208, 136, { size: 21, italic: true, sy: 0.88 });
          text(ctx, "θ", 250, 135, { size: 21, italic: true, sy: 0.88 });
          text(ctx, "day 0", 118, 39, { size: 25, color: "#0000ff", sy: 0.86 });
          text(ctx, "day 3", 118, 65, { size: 25, color: "#00ffff", sy: 0.86 });
          text(ctx, "day 5", 118, 225, { size: 25, color: "#ffff00", sy: 0.86 });
          text(ctx, "day 10", 118, 258, { size: 25, color: "#ff0000", sy: 0.86 });
          text(ctx, "A", 13, 28, { size: 29, sy: 0.86 });
          rich(ctx, [{ t: "x (μm)", size: 29 }], 222, 333, false);
          rich(ctx, [{ t: "y (μm)", size: 29 }], 36, 141, true, 80);
        },
      },
    ],
  };
}

function configB(): any {
  return {
    type: "scatter",
    data: {
      datasets: [
        {
          data: days.map((d, i) => ({ x: d, y: meanDf[i] })),
          borderColor: "#000", borderWidth: 2, pointRadius: 0, showLine: true, tension: 0, fill: false,
        },
      ],
    },
    options: baseOptions({ left: 99, top: 6, right: 8, bottom: 63 }, [-2, 12], [500, 1200]),
    plugins: [
      {
        id: "panelB",
        afterDraw(chart: any) {
          const ctx = chart.ctx;
          const xs = chart.scales.x, ys = chart.scales.y;
          const a = chart.chartArea;
          ctx.save();
          ctx.strokeStyle = "#000";
          ctx.lineWidth = 2;
          days.forEach((d, i) => {
            const x = xs.getPixelForValue(d);
            const y0 = ys.getPixelForValue(dfLow[i]);
            const y1 = ys.getPixelForValue(dfHigh[i]);
            ctx.beginPath();
            ctx.moveTo(x, y0); ctx.lineTo(x, y1);
            ctx.moveTo(x - 2.5, y0); ctx.lineTo(x + 2.5, y0);
            ctx.moveTo(x - 2.5, y1); ctx.lineTo(x + 2.5, y1);
            ctx.stroke();
          });
          ctx.restore();
          frame(chart, bXTicks, bYTicks);
          tickLabels(chart, bXLabels, bYLabels, a.bottom + 25, a.left - 12);
          text(ctx, "B", 9, 28, { size: 29, sy: 0.86 });
          rich(ctx, [{ t: "time (days)", size: 29 }], 229, 333, false);
          rich(
            ctx,
            [
              { t: "⟨", size: 29 },
              { t: "d", size: 31, italic: true },
              { t: "f", size: 21, italic: true, dy: 6 },
              { t: " ⟩", size: 29 },
              { t: " (μm)", size: 29 },
            ],
            42, 148, true, 130
          );
        },
      },
    ],
  };
}

function configRho(
  which: "C" | "D", total: number[], rounded: number[], elongated: number[],
  totDots: [number, number][], elDots: [number, number][], roDots: [number, number][], padding: any
): any {
  const curve = (vals: number[], color: string, w: number) => ({
    data: dGrid.map((d, i) => ({ x: d, y: vals[i] })),
    borderColor: color, borderWidth: w, showLine: true, tension: 0, fill: false,
    pointRadius: 3.5, pointStyle: "circle", pointBackgroundColor: "rgba(0,0,0,0)",
    pointBorderColor: color, pointBorderWidth: 1,
  });
  const dots = (pts: [number, number][], color: string) => ({
    data: toXY(pts), showLine: false, pointStyle: "rect", pointRadius: 1.8, pointBorderWidth: 0,
    pointBackgroundColor: color, backgroundColor: color, borderColor: color,
  });
  const isC = which === "C";
  return {
    type: "scatter",
    data: {
      datasets: [
        curve(rounded, "#00ee00", 2.5),
        curve(elongated, "#ff0000", 2.5),
        curve(total, "#000000", 2),
        dots(roDots, "#00e000"),
        dots(elDots, "#ff0000"),
        dots(totDots, "#000000"),
      ],
    },
    options: baseOptions(padding, [0, 1000], [0, 30]),
    plugins: [
      {
        id: "panel" + which,
        afterDraw(chart: any) {
          const ctx = chart.ctx;
          const a = chart.chartArea;
          frame(chart, dTicks, rhoTicks);
          tickLabels(chart, dLabels, rhoLabels, a.bottom + 22, a.left - 11);
          if (isC) {
            text(ctx, "C", 12, 31.5, { size: 29, sy: 0.86 });
            text(ctx, "day 3", 246, 60, { size: 25, sy: 0.86 });
            text(ctx, "elongated", 232.5, 128, { size: 26, color: "#ff0000", sy: 0.86 });
            text(ctx, "rounded", 232.5, 163, { size: 26, color: "#00b050", sy: 0.86 });
            text(ctx, "total", 252.5, 191.5, { size: 26, sy: 0.86 });
          } else {
            text(ctx, "D", 10, 35, { size: 29, sy: 0.86 });
            text(ctx, "day 10", 255, 61.5, { size: 25, sy: 0.86 });
            text(ctx, "elongated", 241.5, 128.5, { size: 26, color: "#ff0000", sy: 0.86 });
            text(ctx, "rounded", 241.5, 161.5, { size: 26, color: "#00b050", sy: 0.86 });
            text(ctx, "total", 263, 191.5, { size: 26, sy: 0.86 });
          }
          rich(ctx, [{ t: "d", size: 30, italic: true }, { t: " (μm)", size: 29 }], isC ? 213 : 224, 336, false);
          rich(
            ctx,
            [
              { t: "ρ", size: 38, italic: true },
              { t: "d", size: 24, italic: true, dy: 7 },
              { t: " (per 10", size: 32 },
              { t: "6", size: 22, dy: -13 },
              { t: " ", size: 32 },
              { t: "μm", size: 32, italic: true },
              { t: "3", size: 22, dy: -13 },
              { t: ")", size: 32 },
            ],
            isC ? 42 : 53, 151, true, 242
          );
        },
      },
    ],
  };
}

function Panel(props: { left: number; top: number; width: number; height: number; make: () => any }) {
  const ref = useRef<HTMLCanvasElement>(null);
  useEffect(() => {
    const chart = new Chart(ref.current as HTMLCanvasElement, props.make());
    return () => chart.destroy();
  }, []);
  return (
    <div style={{ position: "absolute", left: props.left, top: props.top, width: props.width, height: props.height }}>
      <canvas ref={ref} width={props.width} height={props.height} style={{ width: props.width, height: props.height, display: "block" }} />
    </div>
  );
}

export default function App() {
  const day3TotalDots = [...day3TotalHigh, ...day3TotalMid, ...day3TotalLow];
  const day3RoundedDots = [...day3RoundedHigh, ...day3RoundedMid, ...day3RoundedLow];
  const day3ElongatedDots = [...day3ElongatedHigh, ...day3ElongatedLow];
  const day10TotalDots = [...day10TotalHigh, ...day10TotalBand];
  return (
    <div style={{ position: "absolute", left: 0, top: 0, width: 688, height: 690, overflow: "hidden", background: "#fff" }}>
      <Panel left={0} top={0} width={344} height={340} make={configA} />
      <Panel left={344} top={0} width={360} height={340} make={configB} />
      <Panel
        left={0} top={340} width={344} height={350}
        make={() => configRho("C", day3Total, day3Rounded, day3Elongated, day3TotalDots, day3ElongatedDots, day3RoundedDots, { left: 99, top: 19, right: 9, bottom: 69 })}
      />
      <Panel
        left={344} top={340} width={360} height={350}
        make={() => configRho("D", day10Total, day10Rounded, day10Elongated, day10TotalDots, day10ElongatedDots, day10RoundedDots, { left: 109, top: 17, right: 14, bottom: 70 })}
      />
    </div>
  );
}
